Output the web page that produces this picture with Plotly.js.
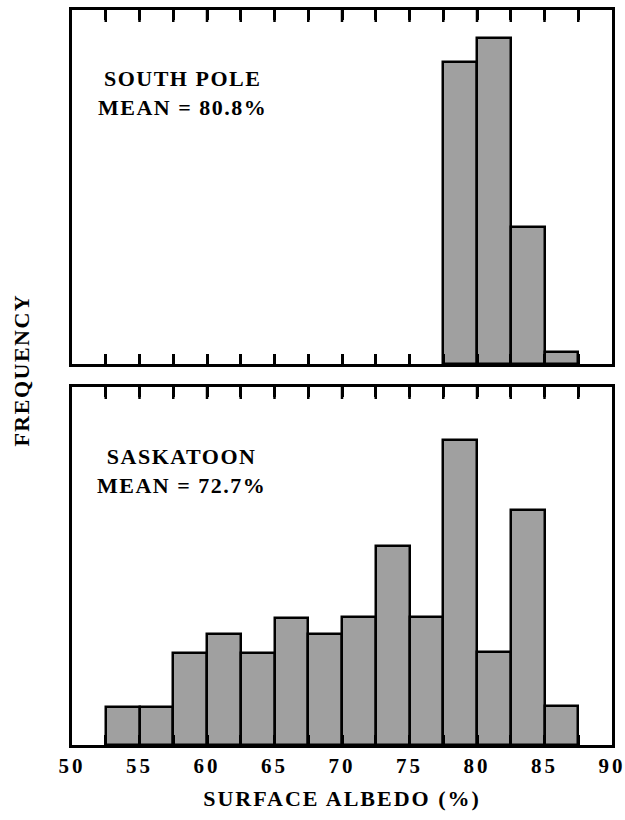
<!DOCTYPE html>
<html>
<head>
<meta charset="utf-8">
<script src="https://cdn.plot.ly/plotly-3.0.1.min.js"></script>
<style>
  html, body { margin: 0; padding: 0; background: #fff; }
  #chart { width: 625px; height: 820px; }
  #chart .xtick text { letter-spacing: 3px; }
  #chart .xtitle { letter-spacing: 2px; }
  #chart .annotation-text { letter-spacing: 1.5px; }
</style>
</head>
<body>
<div id="chart"></div>
<script>
// Bin centres (surface albedo %, bin width 2.5)
const southPoleBins = [78.75, 81.25, 83.75, 86.25];
const southPoleFreq = [302, 326, 137, 12];

const saskatoonBins = [53.75, 56.25, 58.75, 61.25, 63.75, 66.25, 68.75, 71.25, 73.75, 76.25, 78.75, 81.25, 83.75, 86.25];
const saskatoonFreq = [38, 38, 92, 111, 92, 127, 111, 128, 199, 128, 305, 93, 235, 39];

const xTickVals = [50, 55, 60, 65, 70, 75, 80, 85, 90];
const xTickText = ['50', '55', '60', '65', '70', '75', '80', '85', '90'];

const binWidth = 2.5;
const topRangeMax = 354;
const bottomRangeMax = 358;
const serif = 'Liberation Serif, Times New Roman, serif';
const barStyle = { color: '#a0a0a0', line: { color: '#000', width: 2.5 } };

// Inward tick positions along the top edge of each panel (every 2.5 units)
const topTickX = [];
for (let t = 52.5; t < 90; t += binWidth) topTickX.push(t);
const tickMarker = { symbol: 'line-ns', size: 10, color: '#000', line: { color: '#000', width: 2.5 } };

const traces = [
  { type: 'bar', x: saskatoonBins, y: saskatoonFreq, width: binWidth,
    xaxis: 'x', yaxis: 'y', marker: barStyle, hoverinfo: 'skip' },
  { type: 'bar', x: southPoleBins, y: southPoleFreq, width: binWidth,
    xaxis: 'x2', yaxis: 'y2', marker: barStyle, hoverinfo: 'skip' },
  { type: 'scatter', mode: 'markers', x: topTickX, y: topTickX.map(function () { return bottomRangeMax - 5; }),
    xaxis: 'x', yaxis: 'y', marker: tickMarker, cliponaxis: false, hoverinfo: 'skip' },
  { type: 'scatter', mode: 'markers', x: topTickX, y: topTickX.map(function () { return topRangeMax - 5; }),
    xaxis: 'x2', yaxis: 'y2', marker: tickMarker, cliponaxis: false, hoverinfo: 'skip' }
];

const xCommon = {
  range: [50, 90], showgrid: false, zeroline: false,
  showline: true, linecolor: '#000', linewidth: 2.5, mirror: 'ticks',
  ticks: 'inside', ticklen: 10, tickwidth: 2.5, tickcolor: '#000',
  tickmode: 'array', tickvals: xTickVals,
  minor: { dtick: 2.5, tick0: 50, ticks: 'inside', ticklen: 10, tickwidth: 2.5, tickcolor: '#000', showgrid: false }
};
const yCommon = {
  showgrid: false, zeroline: false, showticklabels: false, ticks: '',
  showline: true, linecolor: '#000', linewidth: 2.5, mirror: true
};

const layout = {
  width: 625, height: 820,
  margin: { l: 72, r: 13, t: 10, b: 75 },
  paper_bgcolor: '#fff', plot_bgcolor: 'rgba(0,0,0,0)',
  showlegend: false, bargap: 0,
  font: { family: serif, color: '#000' },
  xaxis: Object.assign({}, xCommon, {
    anchor: 'y', ticktext: xTickText,
    tickfont: { family: serif, size: 21, weight: 'bold', color: '#000' },
    title: { text: '<b>SURFACE ALBEDO (%)</b>', standoff: 14,
             font: { family: serif, size: 22, color: '#000' } }
  }),
  yaxis: Object.assign({}, yCommon, { domain: [0, 0.4871], range: [0, bottomRangeMax] }),
  xaxis2: Object.assign({}, xCommon, { anchor: 'y2', showticklabels: false }),
  yaxis2: Object.assign({}, yCommon, { domain: [0.5184, 1], range: [0, topRangeMax] }),
  annotations: [
    { xref: 'x2', yref: 'y2', x: 58.2, y: 271, showarrow: false, align: 'center',
      text: '<b>SOUTH POLE<br>MEAN = 80.8%</b>',
      font: { family: serif, size: 22, color: '#000' } },
    { xref: 'x', yref: 'y', x: 58.1, y: 274, showarrow: false, align: 'center',
      text: '<b>SASKATOON<br>MEAN = 72.7%</b>',
      font: { family: serif, size: 22, color: '#000' } },
    { xref: 'paper', yref: 'paper', x: -0.095, y: 0.51, xanchor: 'center', yanchor: 'middle',
      showarrow: false, textangle: -90, text: '<b>FREQUENCY</b>',
      font: { family: serif, size: 22, color: '#000' } }
  ]
};

Plotly.newPlot('chart', traces, layout, { displayModeBar: false });
</script>
</body>
</html>
